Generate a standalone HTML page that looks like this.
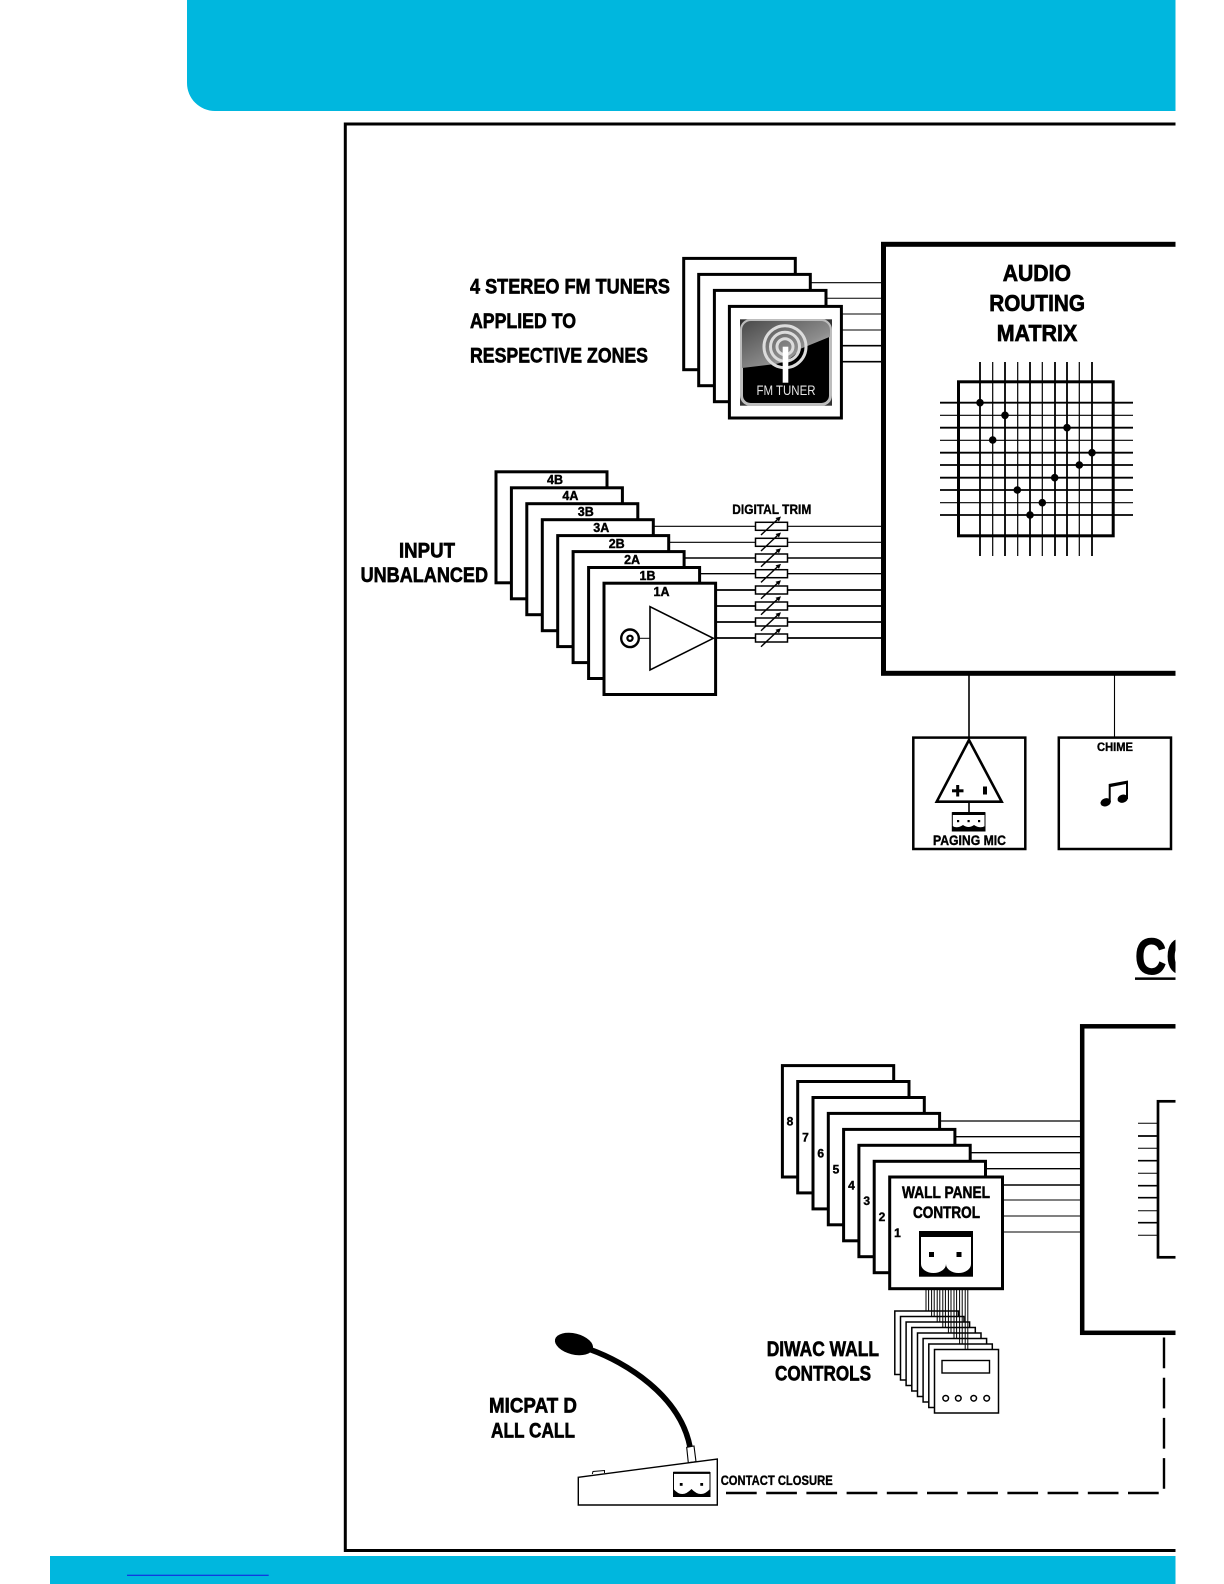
<!DOCTYPE html>
<html><head><meta charset="utf-8"><style>
html,body{margin:0;padding:0;background:#fff}
svg{display:block}
text{font-family:"Liberation Sans",sans-serif;font-weight:bold;fill:#000;stroke:#000;stroke-width:.4}
.b{fill:#fff;stroke:#000;stroke-width:3}
.s{fill:#fff;stroke:#000;stroke-width:1.5}
.m{font-size:21.5px;stroke-width:.65}
.l{font-size:13.5px;stroke-width:.35}
</style></head><body>
<svg width="1224" height="1584" viewBox="0 0 1224 1584" xmlns="http://www.w3.org/2000/svg">
<path d="M187 0H1176V111H215A28 28 0 0 1 187 83Z" fill="#00b7de"/>
<rect x="50" y="1556" width="1126" height="28" fill="#00b7de"/>
<line x1="127" y1="1575.3" x2="268.7" y2="1575.3" stroke="#1414e0" stroke-width="1"/>
<rect x="345.3" y="124" width="900" height="1426.5" fill="none" stroke="#000" stroke-width="3"/>

<!-- tuner lines -->
<g stroke="#000" stroke-width="1.2">
<line x1="800" y1="282.7" x2="882" y2="282.7"/><line x1="800" y1="298.3" x2="882" y2="298.3" stroke-width="1"/>
<line x1="800" y1="314" x2="882" y2="314" stroke-width="1"/><line x1="800" y1="330" x2="882" y2="330" stroke-width="1"/>
<line x1="800" y1="345.7" x2="882" y2="345.7" stroke-width="1.6"/><line x1="800" y1="361.7" x2="882" y2="361.7" stroke-width="1.6"/>
</g>
<rect class="b" x="683.7" y="258.4" width="111.6" height="111.3"/>
<rect class="b" x="698.7" y="274.4" width="111.6" height="111.3"/>
<rect class="b" x="714.4" y="290.4" width="111.6" height="111.3"/>
<rect class="b" x="729.4" y="306.4" width="112" height="111.6"/>
<defs>
<linearGradient id="g" x1="0" y1="0" x2="1" y2="1"><stop offset="0" stop-color="#4a4a4a"/><stop offset=".6" stop-color="#8c8c8c"/><stop offset="1" stop-color="#e0e0e0"/></linearGradient>
<clipPath id="ic"><rect x="742" y="321" width="88" height="83" rx="9"/></clipPath>
</defs>
<rect x="740" y="319.3" width="92" height="86.4" fill="#333"/>
<rect x="741.5" y="320.5" width="89" height="84" rx="9" fill="#000" stroke="#bdbdbd" stroke-width="3"/>
<g clip-path="url(#ic)">
<path d="M742 321H830V336.7L800 349Q790 362 775 364L742 368Z" fill="url(#g)"/>
<g fill="none" stroke="#dcdcdc" stroke-width="3">
<circle cx="785" cy="346.7" r="21"/><circle cx="785" cy="346.7" r="14.5"/><circle cx="785" cy="346.7" r="8"/>
</g>
<rect x="782.7" y="346.7" width="5.6" height="36" fill="#fff"/>
</g>
<text x="756.5" y="395" font-size="13.5" textLength="59" lengthAdjust="spacingAndGlyphs" style="fill:#e4e4e4;stroke:none;font-weight:normal">FM TUNER</text>

<text class="m" x="470" y="293.3" textLength="200" lengthAdjust="spacingAndGlyphs">4 STEREO FM TUNERS</text>
<text class="m" x="470" y="328" textLength="106" lengthAdjust="spacingAndGlyphs">APPLIED TO</text>
<text class="m" x="470" y="362.7" textLength="178" lengthAdjust="spacingAndGlyphs">RESPECTIVE ZONES</text>

<!-- audio box -->
<rect x="883.5" y="244.3" width="400" height="429" fill="#fff" stroke="#000" stroke-width="5"/>
<text x="1002.7" y="281" font-size="23" textLength="68.3" lengthAdjust="spacingAndGlyphs" style="stroke-width:.7">AUDIO</text>
<text x="989.3" y="311.2" font-size="23" textLength="95.7" lengthAdjust="spacingAndGlyphs" style="stroke-width:.7">ROUTING</text>
<text x="996.7" y="341.2" font-size="23" textLength="80.6" lengthAdjust="spacingAndGlyphs" style="stroke-width:.7">MATRIX</text>

<!-- matrix -->
<rect x="958.5" y="381.8" width="154.7" height="154" fill="none" stroke="#000" stroke-width="3"/>
<g stroke="#000" stroke-width="1.8">
<line x1="980" y1="362" x2="980" y2="556"/><line x1="992.7" y1="362" x2="992.7" y2="556" stroke-width="1.2"/>
<line x1="1005" y1="362" x2="1005" y2="556"/><line x1="1017.7" y1="362" x2="1017.7" y2="556" stroke-width="1.2"/>
<line x1="1030" y1="362" x2="1030" y2="556"/><line x1="1042.3" y1="362" x2="1042.3" y2="556" stroke-width="1.2"/>
<line x1="1055" y1="362" x2="1055" y2="556"/><line x1="1067" y1="362" x2="1067" y2="556"/>
<line x1="1079.3" y1="362" x2="1079.3" y2="556" stroke-width="1.2"/><line x1="1092" y1="362" x2="1092" y2="556"/>
<line x1="940" y1="402.7" x2="1133" y2="402.7"/><line x1="940" y1="415.3" x2="1133" y2="415.3" stroke-width="1.2"/>
<line x1="940" y1="427.7" x2="1133" y2="427.7"/><line x1="940" y1="440.3" x2="1133" y2="440.3" stroke-width="1.2"/>
<line x1="940" y1="452.7" x2="1133" y2="452.7"/><line x1="940" y1="465" x2="1133" y2="465"/>
<line x1="940" y1="477.7" x2="1133" y2="477.7"/><line x1="940" y1="490" x2="1133" y2="490"/>
<line x1="940" y1="502.7" x2="1133" y2="502.7" stroke-width="1.2"/><line x1="940" y1="515" x2="1133" y2="515"/>
</g>
<g fill="#000">
<circle cx="980" cy="402.7" r="3.8"/><circle cx="1005" cy="415.3" r="3.8"/><circle cx="992.7" cy="440" r="3.8"/>
<circle cx="1067" cy="427.7" r="3.8"/><circle cx="1092" cy="452.7" r="3.8"/><circle cx="1079.3" cy="465" r="3.8"/>
<circle cx="1054.7" cy="477.7" r="3.8"/><circle cx="1017.3" cy="490" r="3.8"/><circle cx="1042.3" cy="502.7" r="3.8"/><circle cx="1030" cy="515" r="3.8"/>
</g>

<!-- input lines -->
<g stroke="#000" stroke-width="1.4">
<line x1="640" y1="526.3" x2="882" y2="526.3" stroke-width="1.1"/><line x1="640" y1="542.3" x2="882" y2="542.3" stroke-width="1.1"/>
<line x1="640" y1="558" x2="882" y2="558"/><line x1="640" y1="573.7" x2="882" y2="573.7"/>
<line x1="640" y1="590" x2="882" y2="590" stroke-width="1.7"/><line x1="640" y1="606" x2="882" y2="606" stroke-width="1.7"/>
<line x1="640" y1="622" x2="882" y2="622" stroke-width="1.7"/><line x1="640" y1="638" x2="882" y2="638" stroke-width="1.7"/>
</g>
<!-- input stack -->
<rect class="b" x="496" y="471.8" width="111" height="111"/>
<rect class="b" x="511.4" y="487.8" width="111" height="111"/>
<rect class="b" x="526.8" y="503.7" width="111" height="111"/>
<rect class="b" x="542.3" y="519.7" width="111" height="111"/>
<rect class="b" x="557.7" y="535.6" width="111" height="111"/>
<rect class="b" x="573.1" y="551.6" width="111" height="111"/>
<rect class="b" x="588.6" y="567.5" width="111" height="111"/>
<rect class="b" x="604" y="583.2" width="111.6" height="111.3"/>
<g font-size="12.5" text-anchor="middle" style="stroke-width:.35">
<text x="555" y="484">4B</text><text x="570.4" y="500">4A</text><text x="585.8" y="516">3B</text><text x="601.3" y="532">3A</text>
<text x="616.7" y="548">2B</text><text x="632.1" y="564">2A</text><text x="647.5" y="580">1B</text><text x="661.5" y="596">1A</text>
</g>
<path d="M650 606.7V670L713.3 638.3Z" fill="#fff" stroke="#000" stroke-width="1.6"/>
<circle cx="630" cy="638.3" r="8.8" fill="#fff" stroke="#000" stroke-width="2.4"/>
<circle cx="630" cy="638.3" r="2.6" fill="#fff" stroke="#000" stroke-width="2.2"/>
<line x1="639" y1="638.3" x2="650" y2="638.3" stroke="#000" stroke-width="1"/>

<text class="m" x="399" y="557.6" font-size="21.5" textLength="56" lengthAdjust="spacingAndGlyphs">INPUT</text>
<text class="m" x="360.6" y="582" textLength="127.4" lengthAdjust="spacingAndGlyphs">UNBALANCED</text>
<text class="l" x="732.3" y="514" textLength="79" lengthAdjust="spacingAndGlyphs">DIGITAL TRIM</text>

<!-- resistors -->
<g fill="#fff" stroke="#000" stroke-width="1.5">
<rect x="755.5" y="522.3" width="32" height="8"/><rect x="755.5" y="538.3" width="32" height="8"/>
<rect x="755.5" y="554" width="32" height="8"/><rect x="755.5" y="569.7" width="32" height="8"/>
<rect x="755.5" y="586" width="32" height="8"/><rect x="755.5" y="602" width="32" height="8"/>
<rect x="755.5" y="618" width="32" height="8"/><rect x="755.5" y="634" width="32" height="8"/>
</g>
<g stroke="#000" stroke-width="1.4">
<line x1="761" y1="535" x2="778" y2="519"/><line x1="761" y1="551" x2="778" y2="535"/>
<line x1="761" y1="566.7" x2="778" y2="550.7"/><line x1="761" y1="582.4" x2="778" y2="566.4"/>
<line x1="761" y1="598.7" x2="778" y2="582.7"/><line x1="761" y1="614.7" x2="778" y2="598.7"/>
<line x1="761" y1="630.7" x2="778" y2="614.7"/><line x1="761" y1="646.7" x2="778" y2="630.7"/>
</g>
<g fill="#000">
<path d="M781 516.5L775.5 518L779 521.5Z"/><path d="M781 532.5L775.5 534L779 537.5Z"/>
<path d="M781 548.2L775.5 549.7L779 553.2Z"/><path d="M781 563.9L775.5 565.4L779 568.9Z"/>
<path d="M781 580.2L775.5 581.7L779 585.2Z"/><path d="M781 596.2L775.5 597.7L779 601.2Z"/>
<path d="M781 612.2L775.5 613.7L779 617.2Z"/><path d="M781 628.2L775.5 629.7L779 633.2Z"/>
</g>

<!-- paging mic & chime -->
<line x1="969" y1="675" x2="969" y2="740" stroke="#000" stroke-width="1.6"/>
<line x1="1114.5" y1="675" x2="1114.5" y2="738" stroke="#000" stroke-width="1.1"/>
<rect x="913.3" y="737.6" width="112" height="111.4" fill="#fff" stroke="#000" stroke-width="2.5"/>
<rect x="1058.8" y="737.6" width="112.2" height="111.4" fill="#fff" stroke="#000" stroke-width="2.5"/>
<path d="M969 740L936.7 801.7H1001.7Z" fill="#fff" stroke="#000" stroke-width="2.6" stroke-linejoin="miter"/>
<rect x="952" y="789.3" width="11.5" height="3"/><rect x="956.2" y="785" width="3" height="11.5"/>
<rect x="983" y="786.5" width="4" height="8"/>
<line x1="969" y1="802" x2="969" y2="813" stroke="#000" stroke-width="1.6"/>
<rect x="952.3" y="812.7" width="32.7" height="18.3" fill="#fff" stroke="#000" stroke-width="1"/>
<rect x="952.3" y="812" width="32.7" height="3"/>
<path d="M952.5 831V826Q957 829 963 825Q968.5 829 974 825Q980 829 985 826V831Z"/>
<rect x="957" y="820" width="2.2" height="2.2"/><rect x="967.5" y="820" width="2.2" height="2.2"/><rect x="978" y="820" width="2.2" height="2.2"/>
<text x="933" y="845" font-size="14" textLength="73" lengthAdjust="spacingAndGlyphs" style="stroke-width:.4">PAGING MIC</text>
<text x="1097" y="751" font-size="12" textLength="36" lengthAdjust="spacingAndGlyphs" style="stroke-width:.35">CHIME</text>
<g>
<ellipse cx="1105.7" cy="802.3" rx="5.3" ry="4" transform="rotate(-18 1105.7 802.3)"/>
<ellipse cx="1122.7" cy="798.7" rx="5.3" ry="4" transform="rotate(-18 1122.7 798.7)"/>
<path d="M1108.7 802V784L1128 780.5V799H1126V784L1110.7 787V802Z"/>
</g>

<!-- CONTROL heading (clipped) -->
<text x="1135" y="974" font-size="51" textLength="214" lengthAdjust="spacingAndGlyphs" style="stroke-width:1">CONTROL</text>
<rect x="1135" y="977.4" width="50" height="2.5"/>

<!-- wall lines -->
<g stroke="#000" stroke-width="1.3">
<line x1="890" y1="1121" x2="1082" y2="1121"/><line x1="890" y1="1136.7" x2="1082" y2="1136.7"/>
<line x1="890" y1="1152.7" x2="1082" y2="1152.7"/><line x1="890" y1="1168.7" x2="1082" y2="1168.7"/>
<line x1="890" y1="1185" x2="1082" y2="1185" stroke-width="1.5"/><line x1="990" y1="1200" x2="1082" y2="1200" stroke-width="1"/>
<line x1="990" y1="1216" x2="1082" y2="1216" stroke-width="1"/><line x1="990" y1="1232" x2="1082" y2="1232" stroke-width="1"/>
</g>
<!-- control box -->
<rect x="1082.2" y="1026.3" width="300" height="306.5" fill="#fff" stroke="#000" stroke-width="4.5"/>
<rect x="1158" y="1101.3" width="120" height="156" fill="#fff" stroke="#000" stroke-width="2.7"/>
<g stroke="#000" stroke-width="1">
<line x1="1138" y1="1123.3" x2="1157" y2="1123.3"/><line x1="1138" y1="1136" x2="1157" y2="1136" stroke-width="1.7"/>
<line x1="1138" y1="1148.3" x2="1157" y2="1148.3"/><line x1="1138" y1="1160.7" x2="1157" y2="1160.7" stroke-width="1.7"/>
<line x1="1138" y1="1173.3" x2="1157" y2="1173.3"/><line x1="1138" y1="1185.7" x2="1157" y2="1185.7" stroke-width="1.7"/>
<line x1="1138" y1="1197.7" x2="1157" y2="1197.7" stroke-width="1.7"/><line x1="1138" y1="1210.7" x2="1157" y2="1210.7"/>
<line x1="1138" y1="1222.7" x2="1157" y2="1222.7" stroke-width="1.7"/><line x1="1138" y1="1235.3" x2="1157" y2="1235.3"/>
</g>
<!-- wall stack -->
<rect class="b" x="782.4" y="1065.6" width="111.3" height="111.4"/>
<rect class="b" x="797.7" y="1081.5" width="111.3" height="111.4"/>
<rect class="b" x="813" y="1097.5" width="111.3" height="111.4"/>
<rect class="b" x="828.3" y="1113.4" width="111.3" height="111.4"/>
<rect class="b" x="843.6" y="1129.4" width="111.3" height="111.4"/>
<rect class="b" x="858.9" y="1145.3" width="111.3" height="111.4"/>
<rect class="b" x="874.2" y="1161.3" width="111.3" height="111.4"/>
<rect class="b" x="889.7" y="1177" width="112.8" height="111.7"/>
<g font-size="12" text-anchor="middle" style="stroke-width:.3">
<text x="790" y="1125.5">8</text><text x="805.5" y="1141.5">7</text><text x="820.7" y="1157.5">6</text><text x="836" y="1173.5">5</text>
<text x="851.5" y="1189.5">4</text><text x="866.7" y="1205">3</text><text x="882" y="1221">2</text><text x="897.5" y="1237">1</text>
</g>
<text x="902" y="1198" font-size="17" textLength="88" lengthAdjust="spacingAndGlyphs" style="stroke-width:.55">WALL PANEL</text>
<text x="913" y="1218" font-size="17" textLength="67" lengthAdjust="spacingAndGlyphs" style="stroke-width:.55">CONTROL</text>
<rect x="919" y="1231" width="54" height="45.7"/>
<path d="M921 1237H971V1264A12.5 9 0 0 1 946 1264A12.5 9 0 0 1 921 1264Z" fill="#fff"/>
<rect x="929" y="1252" width="5" height="5"/><rect x="956.5" y="1252" width="5" height="5"/>

<!-- diwac stack -->
<rect class="s" x="894.8" y="1311" width="63.5" height="63.5"/>
<rect class="s" x="900.5" y="1316.5" width="63.5" height="63.5"/>
<rect class="s" x="906.1" y="1322" width="63.5" height="63.5"/>
<rect class="s" x="911.8" y="1327.5" width="63.5" height="63.5"/>
<rect class="s" x="917.5" y="1333" width="63.5" height="63.5"/>
<rect class="s" x="923.1" y="1338.5" width="63.5" height="63.5"/>
<rect class="s" x="928.8" y="1344" width="63.5" height="63.5"/>
<rect class="s" x="934.5" y="1349.5" width="64" height="63.5"/>
<rect x="942" y="1360.5" width="47.5" height="12.5" fill="#fff" stroke="#000" stroke-width="1.4"/>
<g fill="#fff" stroke="#000" stroke-width="1.5">
<circle cx="945.7" cy="1398.3" r="2.8"/><circle cx="958.3" cy="1398.3" r="2.8"/><circle cx="973.7" cy="1398.3" r="2.8"/><circle cx="986.7" cy="1398.3" r="2.8"/>
</g>
<g stroke="#000" stroke-width="1">
<line x1="926" y1="1290" x2="926" y2="1311"/><line x1="928.6" y1="1290" x2="928.6" y2="1311"/>
<line x1="931.6" y1="1290" x2="931.6" y2="1316.5"/><line x1="934.2" y1="1290" x2="934.2" y2="1316.5"/>
<line x1="937.2" y1="1290" x2="937.2" y2="1322"/><line x1="939.8" y1="1290" x2="939.8" y2="1322"/>
<line x1="942.8" y1="1290" x2="942.8" y2="1327.5"/><line x1="945.4" y1="1290" x2="945.4" y2="1327.5"/>
<line x1="948.4" y1="1290" x2="948.4" y2="1333"/><line x1="951" y1="1290" x2="951" y2="1333"/>
<line x1="954" y1="1290" x2="954" y2="1338.5"/><line x1="956.6" y1="1290" x2="956.6" y2="1338.5"/>
<line x1="959.6" y1="1290" x2="959.6" y2="1344"/><line x1="962.2" y1="1290" x2="962.2" y2="1344"/>
<line x1="965.2" y1="1290" x2="965.2" y2="1349.5"/><line x1="967.8" y1="1290" x2="967.8" y2="1349.5"/>
</g>
<text class="m" x="766.7" y="1356.2" textLength="112.3" lengthAdjust="spacingAndGlyphs">DIWAC WALL</text>
<text class="m" x="775" y="1380.5" textLength="96" lengthAdjust="spacingAndGlyphs">CONTROLS</text>
<text class="m" x="489" y="1412.5" textLength="88" lengthAdjust="spacingAndGlyphs">MICPAT D</text>
<text class="m" x="491" y="1437.5" textLength="84" lengthAdjust="spacingAndGlyphs">ALL CALL</text>

<!-- mic -->
<ellipse cx="574" cy="1344" rx="19.5" ry="10.5" transform="rotate(14 574 1344)"/>
<path d="M590 1349.5C625 1362 680 1395 690 1447" fill="none" stroke="#000" stroke-width="5.6"/>
<path d="M686.7 1447.3L694 1446L696 1461.7L688.3 1462.7Z" fill="#fff" stroke="#000" stroke-width="1.1"/>
<path d="M592.3 1474L593 1471.5L604.5 1470.5L604.5 1473" fill="#fff" stroke="#000" stroke-width="1"/>
<path d="M578.3 1477.3L717.3 1459V1505H578.3Z" fill="#fff" stroke="#000" stroke-width="1.4"/>
<rect x="673.5" y="1472.5" width="36.5" height="24" fill="#fff" stroke="#000" stroke-width="1"/>
<rect x="673.3" y="1471.7" width="36.7" height="2.2"/>
<path d="M673.5 1497V1489Q682 1499 691.5 1489Q701 1499 710 1489V1497Z"/>
<rect x="679.8" y="1483" width="2.8" height="2.8"/><rect x="700.3" y="1483" width="2.8" height="2.8"/>
<text class="l" x="720.7" y="1485" textLength="112" lengthAdjust="spacingAndGlyphs">CONTACT CLOSURE</text>
<path d="M726 1493H1164V1333" fill="none" stroke="#000" stroke-width="2.4" stroke-dasharray="30.7 9.5"/>

<rect x="1175.500" y="0" width="48.500" height="1584" fill="#fff"/>
</svg>
</body></html>
